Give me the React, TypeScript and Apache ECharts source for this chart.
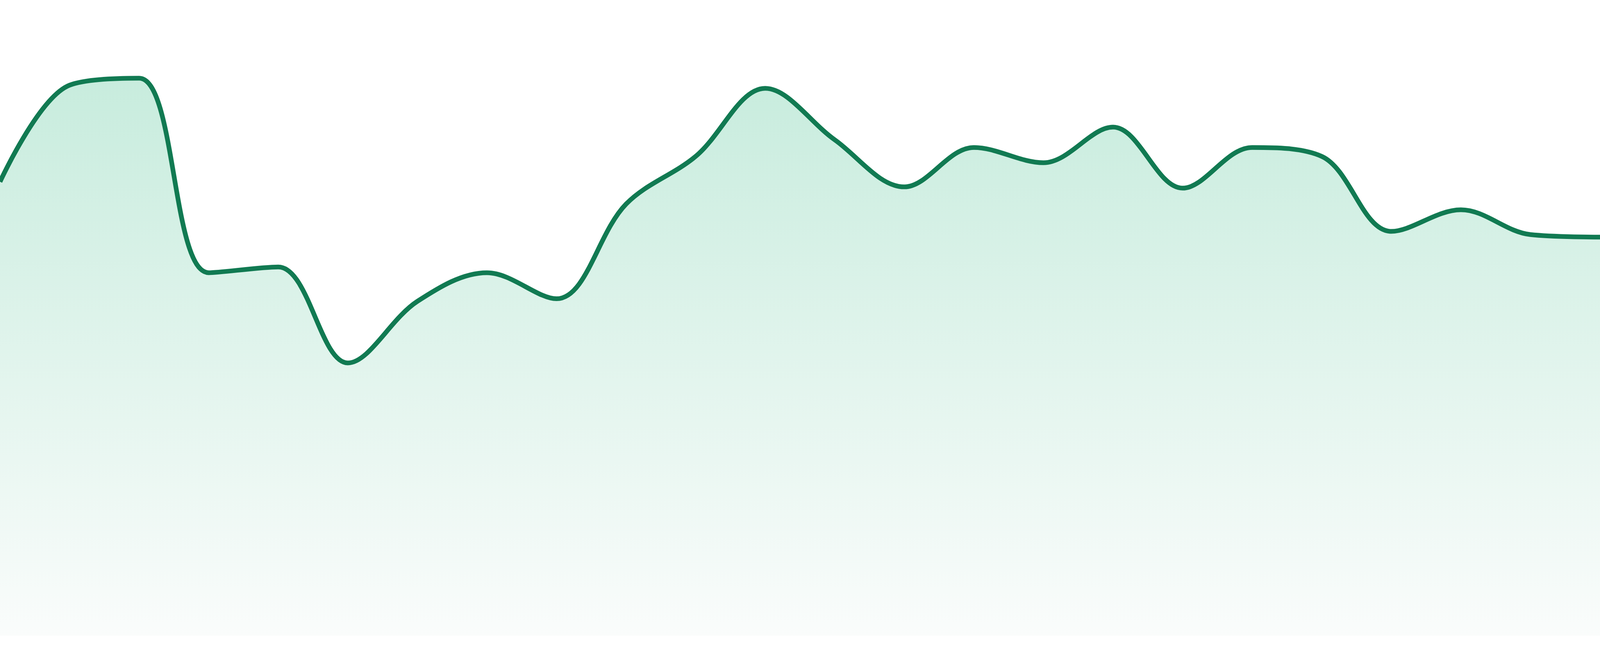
import * as echarts from 'echarts';
import { useEffect, useRef } from 'react';

// 24 evenly spaced samples, no visible axes
const categories = [
    'P01', 'P02', 'P03', 'P04', 'P05', 'P06', 'P07', 'P08',
    'P09', 'P10', 'P11', 'P12', 'P13', 'P14', 'P15', 'P16',
    'P17', 'P18', 'P19', 'P20', 'P21', 'P22', 'P23', 'P24',
];

const values = [
    71.4, 86.6, 87.7, 57.1, 58.0, 42.9, 52.6, 57.1,
    53.0, 67.9, 75.4, 86.1, 78.0, 70.6, 76.8, 74.4,
    80.0, 70.4, 76.8, 75.4, 63.6, 67.0, 63.1, 62.7,
];

const yRange = [0, 100];

export default function App() {
    const chartRef = useRef<HTMLDivElement>(null);

    useEffect(() => {
        if (!chartRef.current) return;
        document.body.style.margin = '0';
        document.body.style.overflow = 'hidden';

        const chart = echarts.init(chartRef.current, undefined, { renderer: 'svg' });

        const option: echarts.EChartsOption = {
            animation: false,
            grid: { left: 0, right: 0, top: 0, bottom: '3.1%' },
            xAxis: {
                type: 'category',
                data: categories,
                boundaryGap: false,
                show: false,
            },
            yAxis: {
                type: 'value',
                min: yRange[0],
                max: yRange[1],
                show: false,
            },
            series: [
                {
                    type: 'line',
                    data: values,
                    smooth: 0.35,
                    symbol: 'none',
                    lineStyle: { color: '#117a52', width: 12 },
                    areaStyle: {
                        color: new echarts.graphic.LinearGradient(0, 0, 0, 1, [
                            { offset: 0, color: '#b0e4cf' },
                            { offset: 1, color: '#f8fbfa' },
                        ]),
                    },
                },
            ],
        };

        chart.setOption(option);

        const handleResize = () => chart.resize();
        window.addEventListener('resize', handleResize);

        return () => {
            chart.dispose();
            window.removeEventListener('resize', handleResize);
        };
    }, []);

    return (
        <div
            ref={chartRef}
            style={{ position: 'fixed', left: 0, top: 0, width: '100vw', height: '100vh' }}
        />
    );
}
